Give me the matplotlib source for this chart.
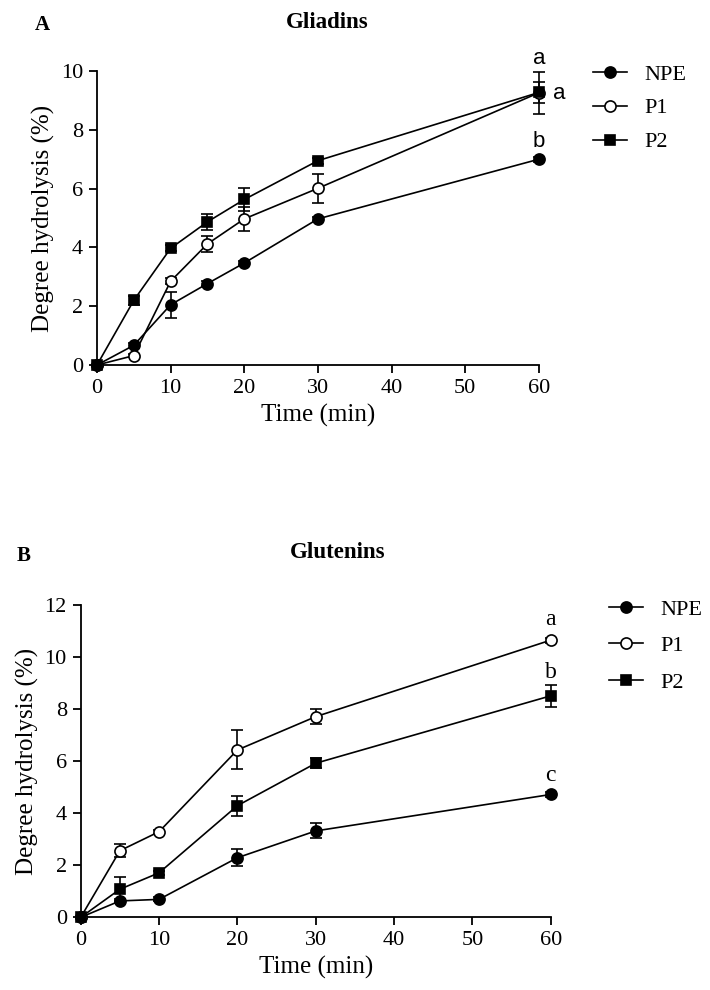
import matplotlib
matplotlib.use("Agg")
import matplotlib.pyplot as plt
from matplotlib.lines import Line2D
import numpy as np

plt.rcParams['font.family'] = ['Liberation Serif', 'DejaVu Serif']

# --- Data ---

# Gliadins (panel A)
time_a = [0, 5, 10, 15, 20, 30, 60]
npe_a = [0, 0.67, 2.05, 2.77, 3.47, 4.97, 7.0]
npe_a_err = [0, 0.08, 0.45, 0.08, 0.08, 0.08, 0.08]
p1_a = [0, 0.32, 2.85, 4.12, 4.97, 6.01, 9.26]
p1_a_err = [0, 0.05, 0.1, 0.27, 0.4, 0.5, 0.72]
p2_a = [0, 2.2, 3.97, 4.87, 5.63, 6.95, 9.27]
p2_a_err = [0, 0.15, 0.1, 0.27, 0.4, 0.1, 0.36]
letters_a = ["b", "a", "a"]  # NPE, P1, P2 at 60 min

# Glutenins (panel B)
time_b = [0, 5, 10, 20, 30, 60]
npe_b = [0, 0.63, 0.69, 2.29, 3.32, 4.72]
npe_b_err = [0, 0.08, 0.08, 0.32, 0.29, 0.08]
p1_b = [0, 2.56, 3.29, 6.43, 7.71, 10.65]
p1_b_err = [0, 0.25, 0.08, 0.75, 0.28, 0.1]
p2_b = [0, 1.08, 1.71, 4.29, 5.92, 8.51]
p2_b_err = [0, 0.46, 0.08, 0.39, 0.2, 0.41]
letters_b = ["c", "a", "b"]

labels = ["NPE", "P1", "P2"]
markers = ['o', 'o', 's']
faces = ['black', 'white', 'black']


def style_axes(ax, ymax, ystep):
    ax.set_xlim(0, 60)
    ax.set_ylim(0, ymax)
    ax.set_xticks(np.arange(0, 61, 10))
    ax.set_yticks(np.arange(0, ymax + 0.1, ystep))
    ax.spines['top'].set_visible(False)
    ax.spines['right'].set_visible(False)
    for s in ('left', 'bottom'):
        ax.spines[s].set_linewidth(1.3)
    ax.tick_params(direction='out', length=6, width=1.3, labelsize=16, pad=4)
    ax.set_xlabel("Time (min)", fontsize=18, labelpad=4)
    ax.set_ylabel("Degree hydrolysis (%)", fontsize=18, labelpad=4)


def msize(marker):
    return 8 if marker == 'o' else 7.5


def plot_series(ax, t, y, err, marker, face):
    ax.errorbar(t, y, yerr=err, color='black', marker=marker, markersize=msize(marker),
                markerfacecolor=face, markeredgecolor='black', markeredgewidth=1.2,
                linewidth=1.2, elinewidth=1.2, capsize=4, capthick=1.2,
                clip_on=False, zorder=3)


def add_legend(ax, anchor, spacing):
    handles = [Line2D([], [], color='black', linewidth=1.2, marker=m, markersize=msize(m),
                      markerfacecolor=f, markeredgecolor='black', markeredgewidth=1.2)
               for m, f in zip(markers, faces)]
    ax.legend(handles, labels, loc='upper left', bbox_to_anchor=anchor,
              bbox_transform=fig.transFigure, frameon=False, fontsize=16,
              handlelength=1.55, handletextpad=0.75, labelspacing=spacing,
              borderpad=0, borderaxespad=0)


fig = plt.figure(figsize=(7.1, 9.9), dpi=100)

# --- Panel A ---
ax_a = fig.add_axes([0.1366, 0.6313, 0.6225, 0.297])
plot_series(ax_a, time_a, npe_a, npe_a_err, markers[0], faces[0])
plot_series(ax_a, time_a, p1_a, p1_a_err, markers[1], faces[1])
plot_series(ax_a, time_a, p2_a, p2_a_err, markers[2], faces[2])
style_axes(ax_a, 10, 2)

sans = ['Liberation Sans', 'DejaVu Sans']
ax_a.annotate(letters_a[0], (time_a[-1], npe_a[-1]), xytext=(0, 12.5), textcoords='offset points',
              ha='center', va='center', fontsize=16, family=sans)
ax_a.annotate(letters_a[1], (time_a[-1], p1_a[-1]), xytext=(0, 25), textcoords='offset points',
              ha='center', va='center', fontsize=16, family=sans)
ax_a.annotate(letters_a[2], (time_a[-1], p2_a[-1]), xytext=(14.5, -1), textcoords='offset points',
              ha='center', va='center', fontsize=16, family=sans)

add_legend(ax_a, (593 / 710, 1 - 64 / 990), 0.6)

fig.text(42 / 710, 1 - 25 / 990, "A", fontsize=15, fontweight='bold', ha='center', va='center')
fig.text(327 / 710, 1 - 22 / 990, "Gliadins", fontsize=16.5, fontweight='bold', ha='center', va='center')

# --- Panel B ---
ax_b = fig.add_axes([0.1137, 0.0734, 0.662, 0.3155])
plot_series(ax_b, time_b, npe_b, npe_b_err, markers[0], faces[0])
plot_series(ax_b, time_b, p1_b, p1_b_err, markers[1], faces[1])
plot_series(ax_b, time_b, p2_b, p2_b_err, markers[2], faces[2])
style_axes(ax_b, 12, 2)

ax_b.annotate(letters_b[0], (time_b[-1], npe_b[-1]), xytext=(0, 14), textcoords='offset points',
              ha='center', va='center', fontsize=17)
ax_b.annotate(letters_b[1], (time_b[-1], p1_b[-1]), xytext=(0, 14.5), textcoords='offset points',
              ha='center', va='center', fontsize=17)
ax_b.annotate(letters_b[2], (time_b[-1], p2_b[-1]), xytext=(0, 17), textcoords='offset points',
              ha='center', va='center', fontsize=17)

add_legend(ax_b, (609 / 710, 1 - 599 / 990), 0.72)

fig.text(24 / 710, 1 - 556 / 990, "B", fontsize=15, fontweight='bold', ha='center', va='center')
fig.text(338 / 710, 1 - 553 / 990, "Glutenins", fontsize=16.5, fontweight='bold', ha='center', va='center')

fig.savefig("out.png", dpi=100)
